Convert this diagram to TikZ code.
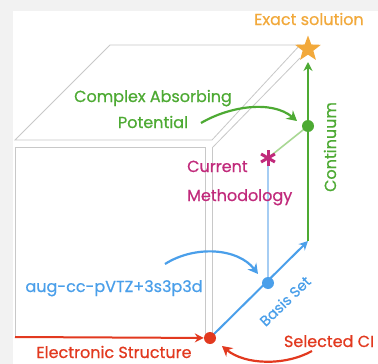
\documentclass[tikz,border=0pt]{standalone}
\usepackage{fontspec}
\setmainfont{Poppins}[FakeBold=0.6]
\usetikzlibrary{arrows.meta,shapes.geometric,calc}
\definecolor{cOrange}{HTML}{F2A93B}
\definecolor{cGreen}{HTML}{4DAA33}
\definecolor{cLGreen}{HTML}{A9D894}
\definecolor{cMag}{HTML}{C12A7B}
\definecolor{cBlue}{HTML}{4A9FEA}
\definecolor{cLBlue}{HTML}{A6CDF3}
\definecolor{cRed}{HTML}{E2391F}
\definecolor{cEdge}{HTML}{C8C8C8}
\definecolor{cBg}{HTML}{F2F2F2}
\pgfdeclarelayer{bg}
\pgfsetlayers{bg,main}
\begin{document}
\begin{tikzpicture}[x=1pt,y=-1pt,
  edge/.style={draw=cEdge,line width=0.8pt},
  lbl/.style={font=\fontsize{16}{19}\selectfont,inner sep=0pt,anchor=base},
  dotnode/.style={circle,inner sep=0pt,minimum size=12pt},
  tip/.style={-{Stealth[length=9pt,width=9pt]}},
  curv/.style={line width=2.2pt,-{Stealth[length=10pt,width=11pt]}}]
\useasboundingbox (0,0) rectangle (378,364);
% points
\node[dotnode,fill=cRed] (es) at (210,338) {};
\node[dotnode,fill=cBlue] (bs) at (268,283) {};
\node[dotnode,fill=cGreen] (cap) at (308,126) {};
\node[star,star points=5,star point ratio=2.4,fill=cOrange,inner sep=0pt,minimum size=27pt] (ex) at (308,49) {};
\coordinate (o) at (15,337);
\coordinate (btip) at (308,241);
\coordinate (gtop) at (308,62);
\node[inner sep=0pt,minimum size=14pt] (cur) at (268,158) {};
\begin{pgfonlayer}{bg}
\fill[cBg] (0,0) rectangle (378,364);
\fill[white] (13,11) rectangle (378,364);
% cube edges
\draw[edge] (15,140) -- (110,45) -- (300,45) -- (212,140) -- cycle;
\draw[edge] (213,147) -- (300,58);
\draw[edge] (15,337) -- (15,147) -- (205,147) -- (205,337);
\draw[edge] (212,147) -- (212,337);
% axes
\draw[cRed,line width=2pt,tip] (o) -- (es);
\draw[cBlue,line width=2pt,tip] (es.center) -- (btip);
\draw[cGreen,line width=2pt] (btip) -- (cap.center);
\draw[cGreen,line width=2pt,tip] (cap) -- (gtop);
\draw[cLBlue,line width=1.6pt] (cur.center) -- (bs.center);
\draw[cLGreen,line width=1.6pt] (cur.center) -- (cap.center);
\end{pgfonlayer}
\foreach \a in {90,30,150}
  \draw[cMag,line width=3pt] ($(cur.center)+(\a:8)$) -- ($(cur.center)+(\a+180:8)$);
% labels
\node[lbl,text=cOrange] (lex) at (309,25) {Exact solution};
\node[lbl,text=cGreen] (lcap1) at (153,102) {Complex Absorbing};
\node[lbl,text=cGreen] (lcap2) at (153,128) {Potential};
\node[lbl,text=cGreen,rotate=90] (lcont) at (336,147) {Continuum};
\node[lbl,text=cMag,anchor=base west] (lcur1) at (187,172) {Current};
\node[lbl,text=cMag,anchor=base west] (lcur2) at (187,201) {Methodology};
\node[lbl,text=cBlue] (laug) at (114,292) {aug-cc-pVTZ+3s3p3d};
\node[lbl,text=cBlue,rotate=44,anchor=center,font=\fontsize{14.5}{17}\selectfont] (lbas) at (285,301) {Basis Set};
\node[lbl,text=cRed] (lel) at (114,358) {Electronic Structure};
\node[lbl,text=cRed] (lsel) at (329,347) {Selected CI};
% curved arrows
\coordinate (g0) at (201,123);
\coordinate (g1) at (297,121);
\draw[cGreen,curv] (g0) .. controls (230,106) and (272,100) .. (g1);
\coordinate (b0) at (165,264);
\coordinate (b1) at (258,274);
\draw[cBlue,curv] (b0) .. controls (195,245) and (238,248) .. (b1);
\coordinate (r0) at (312,351);
\coordinate (r1) at (222,346);
\draw[cRed,curv] (r0) .. controls (285,366) and (245,365) .. (r1);
\end{tikzpicture}
\end{document}
